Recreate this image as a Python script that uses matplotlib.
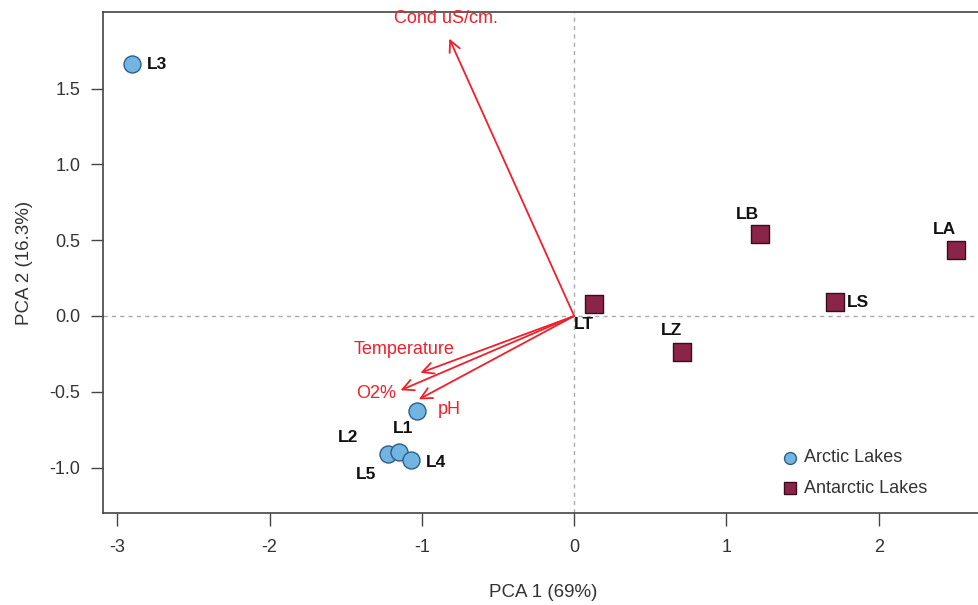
import matplotlib.pyplot as plt

plt.rcParams['font.family'] = ['Liberation Sans', 'DejaVu Sans']

# Site scores
arctic_names = ['L3', 'L1', 'L2', 'L5', 'L4']
arctic_x = [-2.90, -1.03, -1.22, -1.15, -1.07]
arctic_y = [1.66, -0.63, -0.91, -0.90, -0.95]

antarctic_names = ['LB', 'LA', 'LS', 'LT', 'LZ']
antarctic_x = [1.22, 2.51, 1.71, 0.13, 0.71]
antarctic_y = [0.54, 0.435, 0.09, 0.08, -0.24]

# Variable loadings (arrow tips) and label positions
var_names = ['Cond uS/cm.', 'Temperature', 'O2%', 'pH']
var_x = [-0.82, -1.01, -1.14, -1.02]
var_y = [1.83, -0.375, -0.49, -0.55]
var_lab_x = [-0.84, -1.12, -1.30, -0.82]
var_lab_y = [1.96, -0.22, -0.51, -0.62]

# label offsets in points for site labels
arctic_off = [(18, 0), (-10, -12), (-29, 12), (-24, -16), (18, -1.5)]
antarctic_off = [(-9, 14), (-9, 15), (17, 0), (-7, -15), (-8, 16)]

fig = plt.figure(figsize=(9.79, 6.05), dpi=100)
ax = fig.add_axes([0.105, 0.152, 0.9, 0.828])

ax.axhline(0, color='#aaaaaa', ls=(0, (3, 3)), lw=1, zorder=0)
ax.axvline(0, color='#aaaaaa', ls=(0, (3, 3)), lw=1, zorder=0)

ax.scatter(arctic_x, arctic_y, s=150, marker='o', color='#72b4e2',
           edgecolor='#2c5f8a', linewidth=1, zorder=3, label='Arctic Lakes')
ax.scatter(antarctic_x, antarctic_y, s=150, marker='s', color='#8b2449',
           edgecolor='#3a0d1c', linewidth=1, zorder=3, label='Antarctic Lakes')

for name, x, y, off in zip(arctic_names, arctic_x, arctic_y, arctic_off):
    ax.annotate(name, (x, y), xytext=off, textcoords='offset points',
                ha='center', va='center', fontsize=12.5, fontweight='bold', color='#111111')
for name, x, y, off in zip(antarctic_names, antarctic_x, antarctic_y, antarctic_off):
    ax.annotate(name, (x, y), xytext=off, textcoords='offset points',
                ha='center', va='center', fontsize=12.5, fontweight='bold', color='#111111')

red = '#f0202a'
for name, x, y, lx, ly in zip(var_names, var_x, var_y, var_lab_x, var_lab_y):
    ax.annotate('', xy=(x, y), xytext=(0, 0),
                arrowprops=dict(arrowstyle='->,head_length=0.8,head_width=0.4',
                                color=red, lw=1.3, shrinkA=0, shrinkB=0))
    ax.text(lx, ly, name, color=red, fontsize=13, ha='center', va='center')

ax.set_xlim(-3.095, 2.69)
ax.set_ylim(-1.30, 2.005)
ax.set_xticks([-3, -2, -1, 0, 1, 2])
ax.set_xticklabels(['-3', '-2', '-1', '0', '1', '2'])
ax.set_yticks([-1.0, -0.5, 0.0, 0.5, 1.0, 1.5])
ax.set_yticklabels(['-1.0', '-0.5', '0.0', '0.5', '1.0', '1.5'])
ax.tick_params(axis='both', length=9, width=1, color='#444444', labelsize=13,
               labelcolor='#333333')
ax.tick_params(axis='x', pad=10)
ax.tick_params(axis='y', pad=7)
for sp in ax.spines.values():
    sp.set_color('#444444')
    sp.set_linewidth(1.2)

ax.set_xlabel('PCA 1 (69%)', fontsize=13.5, color='#333333', labelpad=20)
ax.set_ylabel('PCA 2 (16.3%)', fontsize=13.5, color='#333333', labelpad=12)

ax.legend(loc='lower left', bbox_to_anchor=(0.749, 0.0), frameon=False, fontsize=13,
          markerscale=0.7, handletextpad=0.2, labelspacing=0.75, labelcolor='#333333',
          handlelength=1.2)

fig.savefig('out.png', dpi=100)
